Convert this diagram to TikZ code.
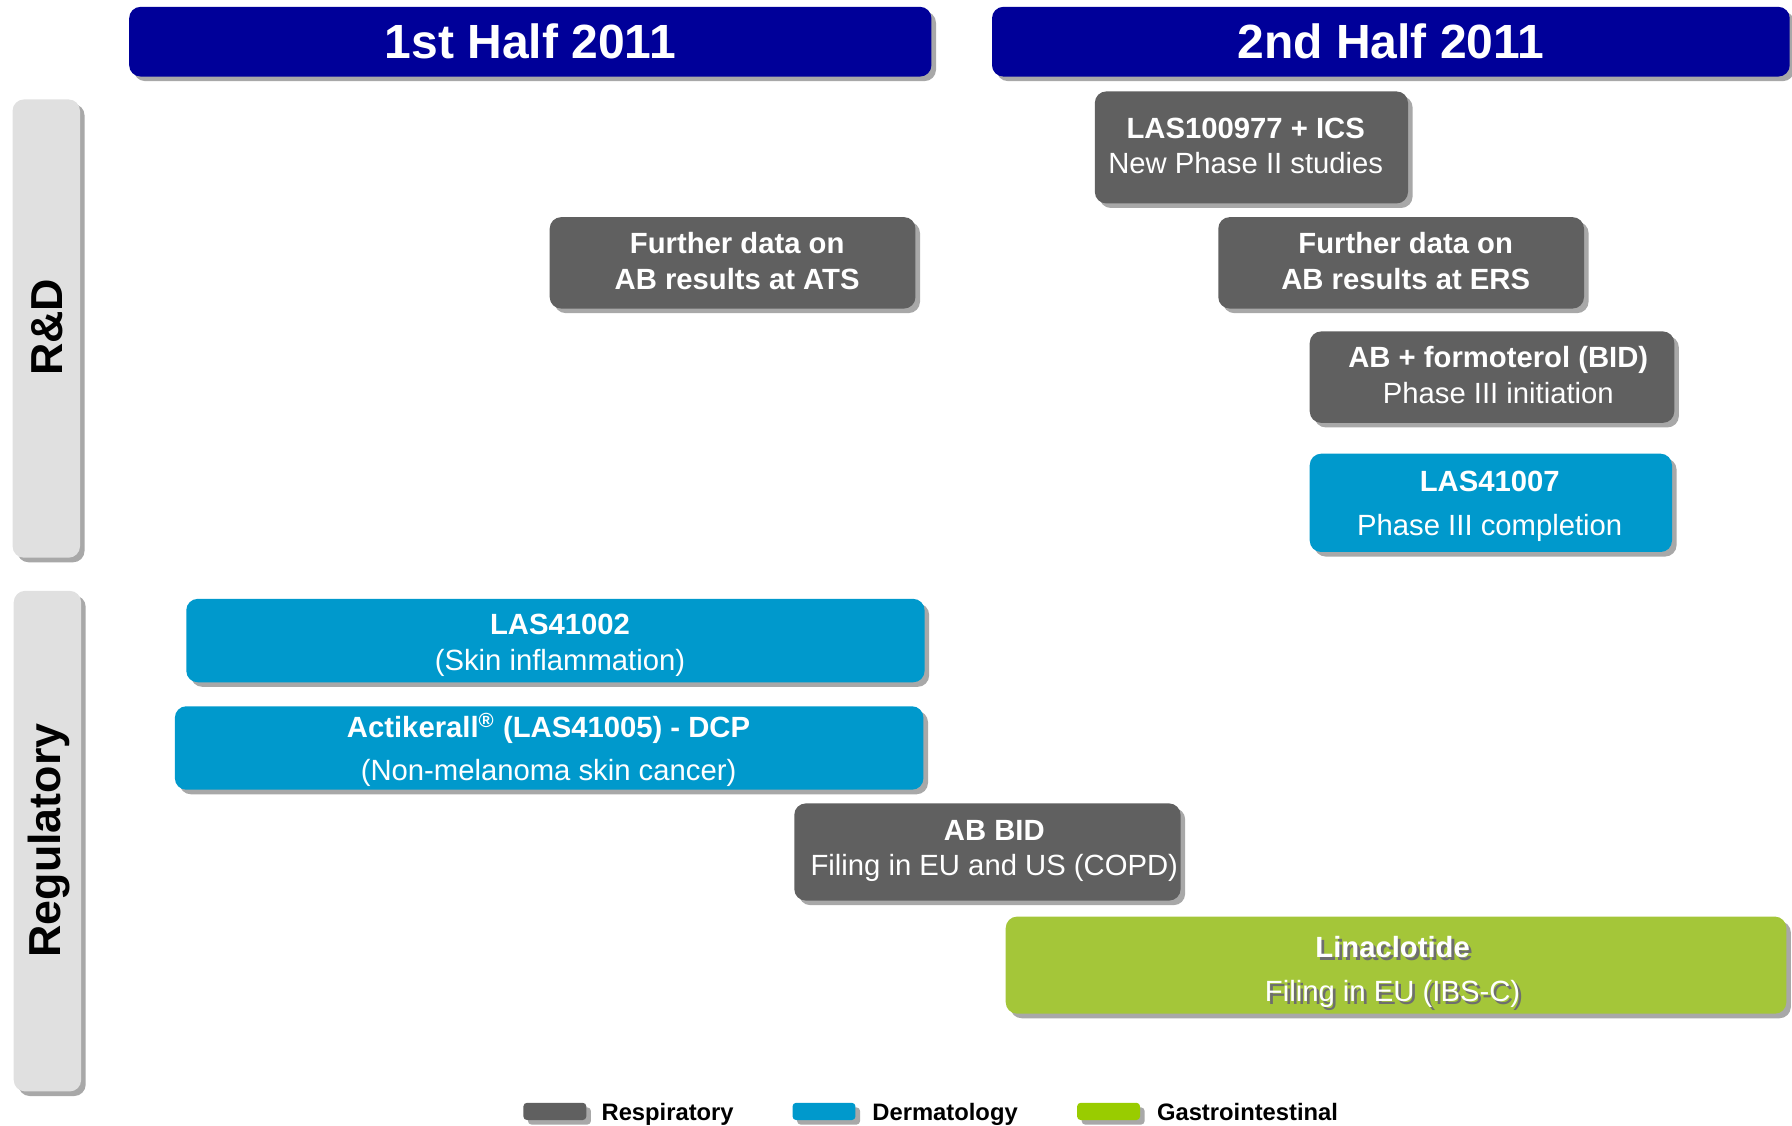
\documentclass[tikz,border=0pt]{standalone}
\usepackage{fontspec}
\setmainfont{Liberation Sans}
\usetikzlibrary{shadows}
\definecolor{hdrblue}{HTML}{000099}
\definecolor{resp}{HTML}{606060}
\definecolor{derm}{HTML}{0099CC}
\definecolor{gastro}{HTML}{A4C639}
\definecolor{gastroleg}{HTML}{99CC00}
\definecolor{sidegray}{HTML}{E0E0E0}
\definecolor{shadowgray}{HTML}{A8A8A8}
\definecolor{txtshadow}{HTML}{6E6E6E}
\begin{document}
\begin{tikzpicture}[x=0.5pt,y=-0.5pt,
  shadowed/.style={drop shadow={shadow xshift=2pt,shadow yshift=-2pt,fill=shadowgray,opacity=1}},
  box/.style={shadowed, rounded corners=5pt, inner sep=0pt},
  hdr/.style={box, fill=hdrblue, minimum height=30.5pt, text=white, font=\bfseries\fontsize{21}{24}\selectfont},
  side/.style={shadowed, rounded corners=5pt, fill=sidegray, inner sep=0pt, minimum width=29.5pt},
  sidetext/.style={rotate=90, inner sep=0pt, text=black, font=\bfseries\fontsize{19.6}{22}\selectfont},
  swatch/.style={shadowed, rounded corners=1.5pt, inner sep=0pt, minimum width=27.5pt, minimum height=7.5pt},
  legtext/.style={anchor=base west, inner sep=0pt, text=black, font=\bfseries\fontsize{10.4}{12}\selectfont},
  boxtext/.style={inner sep=0pt, align=center, text=white, font=\fontsize{12.8}{15.5}\selectfont}
]
\useasboundingbox (0,0) rectangle (1568,985.25);

% headers
\node[hdr, minimum width=351pt] (h1) at (464,36.5) {1st Half 2011};
\node[hdr, minimum width=349pt] (h2) at (1217,36.5) {2nd Half 2011};

% side bars
\node[side, minimum height=200.5pt] (rdside) at (40.5,287.5) {};
\node[sidetext] (rdlabel) at (41,286.5) {R\&D};
\node[side, minimum height=219pt] (regside) at (41.5,736) {};
\node[sidetext] (reglabel) at (43,735.5) {Regulatory};

% R&D boxes
\node[box, fill=resp, minimum width=137pt, minimum height=49pt] (las100977) at (1095,129) {};
\node[boxtext] (las100977t) at (1090,127.5) {\textbf{LAS100977 + ICS}\\New Phase II studies};
\node[box, fill=resp, minimum width=160pt, minimum height=40pt] (ats) at (641,230) {};
\node[boxtext] (atst) at (645,228.5) {\textbf{Further data on}\\\textbf{AB results at ATS}};
\node[box, fill=resp, minimum width=160pt, minimum height=40pt] (ers) at (1226,230) {};
\node[boxtext] (erst) at (1230,228.5) {\textbf{Further data on}\\\textbf{AB results at ERS}};
\node[box, fill=resp, minimum width=159.5pt, minimum height=40pt] (formo) at (1305.5,330) {};
\node[boxtext] (formot) at (1311,328) {\textbf{AB + formoterol (BID)}\\Phase III initiation};
\node[box, fill=derm, minimum width=158.5pt, minimum height=43pt] (las41007) at (1304.5,440) {};
\node[boxtext] (las41007t) at (1303.5,443) {\textbf{LAS41007}\\[3.5pt]Phase III completion};

% Regulatory boxes
\node[box, fill=derm, minimum width=323pt, minimum height=36.5pt] (las41002) at (486,560.5) {};
\node[boxtext] (las41002t) at (490,564.5) {\textbf{LAS41002}\\(Skin inflammation)};
\node[box, fill=derm, minimum width=327.5pt, minimum height=36.5pt] (actik) at (480.5,654.5) {};
\node[boxtext] (actikt) at (480,656) {\textbf{Actikerall\textsuperscript{®} (LAS41005) - DCP}\\[3.5pt](Non-melanoma skin cancer)};
\node[box, fill=resp, minimum width=169pt, minimum height=42.5pt] (abbid) at (864,745.5) {};
\node[boxtext] (abbidt) at (870,744.5) {\textbf{AB BID}\\Filing in EU and US (COPD)};
\node[box, fill=gastro, minimum width=341.5pt, minimum height=42.5pt] (lina) at (1221.5,844.5) {};
\node[boxtext, text=txtshadow] (linashadow) at (1221,853) {\textbf{Linaclotide}\\[3.5pt]Filing in EU (IBS-C)};
\node[boxtext] (linatext) at (1218.5,850.5) {\textbf{Linaclotide}\\[3.5pt]Filing in EU (IBS-C)};

% legend
\node[swatch, fill=resp] (sw1) at (485.5,972.5) {};
\node[legtext] (lg1) at (526,980.5) {Respiratory};
\node[swatch, fill=derm] (sw2) at (721,972.5) {};
\node[legtext] (lg2) at (763,980.5) {Dermatology};
\node[swatch, fill=gastroleg] (sw3) at (970,972.5) {};
\node[legtext] (lg3) at (1012,980.5) {Gastrointestinal};
\end{tikzpicture}
\end{document}
